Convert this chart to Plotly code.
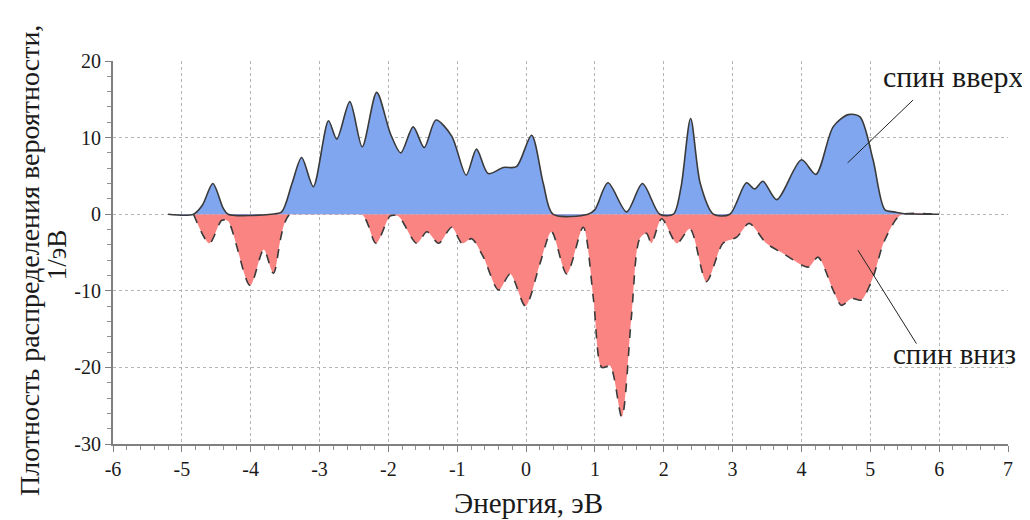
import plotly.graph_objects as go

# Spin-up density of states (key points of the curve)
energy_up = [-5.2, -4.83, -4.7, -4.55, -4.4, -4.33, -3.7, -3.55, -3.4, -3.26, -3.09, -2.87, -2.75,
             -2.56, -2.38, -2.17, -1.97, -1.82, -1.64, -1.48, -1.31, -1.08, -0.87, -0.72,
             -0.55, -0.33, -0.14, 0.08, 0.25, 0.39, 0.9, 1.0, 1.19, 1.46, 1.69, 1.94, 2.14, 2.25,
             2.39, 2.53, 2.72, 2.96, 3.20, 3.32, 3.44, 3.64, 4.00, 4.21, 4.46, 4.68, 4.85,
             5.04, 5.21, 5.35, 5.47, 6.0]
dos_up = [0.0, 0.0, 1.2, 4.0, 0.8, 0.0, 0.0, 0.3, 4.0, 7.4, 3.6, 12.2, 9.8,
          14.7, 8.8, 15.9, 10.5, 8.0, 11.4, 8.7, 12.3, 10.2, 5.1, 8.5,
          5.3, 6.1, 6.2, 10.3, 4.0, 0.0, 0.0, 0.6, 4.1, 0.3, 4.0, 0.0, 0.0, 3.5,
          12.5, 4.0, 0.0, 0.0, 4.1, 3.3, 4.3, 1.9, 7.1, 5.2, 11.4, 13.0, 12.7,
          7.1, 0.6, 0.3, 0.1, 0.0]

# Spin-down density of states (key points of the curve, negative)
energy_dn = [-4.83, -4.60, -4.42, -4.33, -4.01, -3.81, -3.67, -3.43, -2.39, -2.18, -1.97, -1.85,
             -1.59, -1.44, -1.27, -1.08, -0.93, -0.79, -0.62, -0.40, -0.23, -0.01, 0.20, 0.37,
             0.59, 0.83, 0.98, 1.10, 1.22, 1.39, 1.53, 1.65, 1.75, 1.82, 1.97, 2.19, 2.38,
             2.62, 2.86, 3.06, 3.24, 3.49, 3.73, 4.10, 4.24, 4.46, 4.58, 4.73, 4.87, 5.04,
             5.19, 5.38, 5.47, 6.0]
dos_dn = [0.0, -3.8, -0.8, -0.9, -9.3, -4.6, -7.7, 0.0, 0.0, -3.8, -0.2, -0.3,
          -3.8, -2.3, -3.8, -1.7, -3.8, -3.2, -5.6, -9.9, -7.8, -12.0, -6.5, -2.3,
          -7.8, -1.7, -11.2, -20.0, -19.8, -26.5, -13.4, -3.2, -2.5, -3.8, -0.6, -3.8, -1.9,
          -8.8, -3.8, -3.0, -1.2, -3.8, -5.1, -6.9, -5.6, -9.9, -11.9, -11.0, -11.2, -8.2,
          -3.8, -0.6, 0.0, 0.0]

x_ticks = [-6, -5, -4, -3, -2, -1, 0, 1, 2, 3, 4, 5, 6, 7]
y_ticks = [-30, -20, -10, 0, 10, 20]

FONT = "Liberation Serif"
LINE = "#3a3a3a"
TXT = "#1a1a1a"

fig = go.Figure()
fig.add_trace(go.Scatter(
    x=energy_dn, y=dos_dn, mode="lines", fill="tozeroy",
    fillcolor="rgb(250,132,130)",
    line=dict(color=LINE, width=1.6, dash="dash", shape="spline", smoothing=0.8),
    name="спин вниз", showlegend=False))
fig.add_trace(go.Scatter(
    x=energy_up, y=dos_up, mode="lines", fill="tozeroy",
    fillcolor="rgb(128,166,240)",
    line=dict(color=LINE, width=1.6, shape="spline", smoothing=0.8),
    name="спин вверх", showlegend=False))

grid = dict(showgrid=True, gridcolor="#b5b5b5", griddash="dot", gridwidth=1)

fig.update_xaxes(
    range=[-6, 7], tickvals=x_ticks, ticktext=[str(v) for v in x_ticks],
    showline=True, linecolor="#808080", linewidth=2, zeroline=False,
    ticks="outside", ticklen=6, tickcolor="#808080",
    minor=dict(dtick=0.2, ticks="outside", ticklen=4, tickcolor="#909090", showgrid=False),
    tickfont=dict(family=FONT, size=20, color=TXT),
    **grid)
fig.update_yaxes(
    range=[-30, 20], tickvals=y_ticks, ticktext=[str(v) for v in y_ticks],
    showline=True, linecolor="#808080", linewidth=2, zeroline=False,
    ticks="outside", ticklen=6, tickcolor="#808080",
    minor=dict(dtick=2, ticks="outside", ticklen=4, tickcolor="#909090", showgrid=False),
    tickfont=dict(family=FONT, size=20, color=TXT),
    **grid)

# x-axis title
fig.add_annotation(x=0.03, y=-0.154, xref="x", yref="paper", xanchor="center", yanchor="middle",
                   text="Энергия, эВ", showarrow=False,
                   font=dict(family=FONT, size=29, color=TXT))
# y-axis title, two rotated lines
fig.add_annotation(x=-0.094, y=0.48, xref="paper", yref="paper", textangle=-90,
                   xanchor="center", yanchor="middle",
                   text="Плотность распределения вероятности,", showarrow=False,
                   font=dict(family=FONT, size=28, color=TXT))
fig.add_annotation(x=-0.0625, y=0.493, xref="paper", yref="paper", textangle=-90,
                   xanchor="center", yanchor="middle",
                   text="1/эВ", showarrow=False,
                   font=dict(family=FONT, size=27, color=TXT))

fig.add_annotation(x=6.2, y=18.0, xref="x", yref="y", text="спин вверх", showarrow=False,
                   font=dict(family=FONT, size=30, color=TXT))
fig.add_annotation(x=6.23, y=-18.2, xref="x", yref="y", text="спин вниз", showarrow=False,
                   font=dict(family=FONT, size=29, color=TXT))
fig.add_shape(type="line", x0=5.62, y0=14.9, x1=4.67, y1=6.7, xref="x", yref="y",
              line=dict(color="#222", width=1))
fig.add_shape(type="line", x0=5.67, y0=-16.9, x1=4.82, y1=-4.7, xref="x", yref="y",
              line=dict(color="#222", width=1))

# page body has an 8px margin, so the figure is shrunk and shifted accordingly
fig.update_layout(
    width=1022, height=512,
    margin=dict(l=105, r=22, t=53, b=76),
    plot_bgcolor="white", paper_bgcolor="white",
)

fig.write_html("out.html")
